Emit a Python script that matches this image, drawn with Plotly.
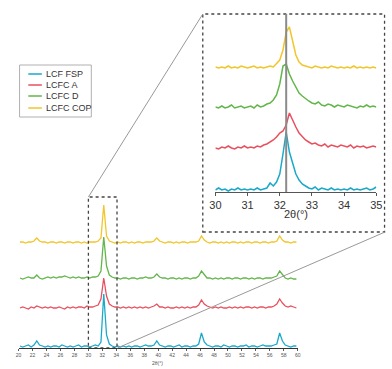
import plotly.graph_objects as go

# ---------------- data ----------------
series_names = ["LCF FSP", "LCFC A", "LCFC D", "LCFC COP"]
series_colors = ["#1ba9cb", "#e9505e", "#62b64a", "#f2c52a"]

# main scan: 2theta from 20.2 to 59.8, step 0.4
main_x = [20.2, 20.6, 21.0, 21.4, 21.8, 22.2, 22.6, 23.0, 23.4, 23.8,
          24.2, 24.6, 25.0, 25.4, 25.8, 26.2, 26.6, 27.0, 27.4, 27.8,
          28.2, 28.6, 29.0, 29.4, 29.8, 30.2, 30.6, 31.0, 31.4, 31.8,
          32.2, 32.6, 33.0, 33.4, 33.8, 34.2, 34.6, 35.0, 35.4, 35.8,
          36.2, 36.6, 37.0, 37.4, 37.8, 38.2, 38.6, 39.0, 39.4, 39.8,
          40.2, 40.6, 41.0, 41.4, 41.8, 42.2, 42.6, 43.0, 43.4, 43.8,
          44.2, 44.6, 45.0, 45.4, 45.8, 46.2, 46.6, 47.0, 47.4, 47.8,
          48.2, 48.6, 49.0, 49.4, 49.8, 50.2, 50.6, 51.0, 51.4, 51.8,
          52.2, 52.6, 53.0, 53.4, 53.8, 54.2, 54.6, 55.0, 55.4, 55.8,
          56.2, 56.6, 57.0, 57.4, 57.8, 58.2, 58.6, 59.0, 59.4, 59.8]

main_fsp = [2, 1, 2, 3, 1, 3, 7, 3, 2, 1,
            2, 1, 2, 2, 1, 3, 2, 1, 2, 1,
            2, 3, 1, 2, 2, 1, 2, 3, 2, 6,
            54, 13, 4, 2, 1, 2, 1, 2, 1, 2,
            1, 2, 2, 1, 2, 3, 2, 2, 3, 7,
            3, 2, 1, 2, 2, 1, 2, 3, 1, 2,
            2, 1, 2, 2, 4, 15, 6, 3, 2, 1,
            2, 2, 1, 3, 2, 1, 2, 2, 1, 2,
            2, 3, 1, 2, 2, 1, 2, 3, 2, 2,
            2, 3, 4, 15, 7, 3, 2, 1, 2, 2]

main_a = [2, 3, 2, 1, 3, 2, 4, 3, 2, 3,
          2, 3, 2, 2, 3, 2, 1, 3, 2, 3,
          2, 3, 3, 2, 4, 3, 3, 4, 5, 11,
          32, 14, 6, 4, 3, 3, 2, 3, 2, 3,
          2, 3, 2, 3, 2, 3, 2, 3, 4, 6,
          3, 3, 2, 3, 2, 2, 3, 2, 3, 2,
          3, 2, 3, 3, 5, 10, 6, 4, 3, 2,
          3, 2, 3, 2, 2, 3, 2, 3, 2, 3,
          2, 3, 3, 2, 3, 2, 3, 3, 2, 3,
          3, 4, 6, 11, 7, 4, 3, 4, 3, 2]

main_d = [2, 1, 2, 3, 2, 2, 5, 2, 1, 2,
          3, 2, 3, 2, 3, 3, 4, 3, 2, 3,
          2, 3, 2, 2, 3, 2, 3, 3, 4, 9,
          43, 14, 5, 3, 2, 2, 1, 2, 2, 1,
          2, 2, 1, 2, 2, 3, 2, 2, 3, 6,
          3, 2, 2, 1, 2, 2, 1, 2, 1, 2,
          2, 1, 2, 2, 4, 9, 5, 2, 2, 1,
          2, 1, 2, 1, 2, 2, 1, 2, 2, 1,
          2, 2, 1, 2, 1, 2, 2, 1, 2, 2,
          2, 3, 4, 9, 5, 2, 1, 2, 1, 1]

main_cop = [2, 2, 1, 2, 2, 3, 6, 3, 2, 2,
            1, 2, 2, 1, 2, 2, 1, 2, 2, 1,
            2, 2, 1, 2, 1, 2, 2, 2, 3, 6,
            39, 8, 3, 2, 1, 2, 1, 2, 2, 1,
            2, 1, 2, 2, 1, 2, 2, 2, 3, 6,
            3, 2, 1, 2, 2, 1, 2, 1, 2, 2,
            1, 2, 2, 2, 3, 8, 4, 2, 1, 2,
            2, 1, 2, 1, 2, 1, 2, 2, 1, 2,
            1, 2, 2, 1, 2, 2, 1, 2, 2, 1,
            2, 2, 3, 8, 4, 2, 2, 1, 2, 2]

# zoomed scan: 2theta from 30.0 to 35.0, step 0.1
zoom_x = [30.0, 30.1, 30.2, 30.3, 30.4, 30.5, 30.6, 30.7, 30.8, 30.9,
          31.0, 31.1, 31.2, 31.3, 31.4, 31.5, 31.6, 31.7, 31.8, 31.9,
          32.0, 32.1, 32.2, 32.3, 32.4, 32.5, 32.6, 32.7, 32.8, 32.9,
          33.0, 33.1, 33.2, 33.3, 33.4, 33.5, 33.6, 33.7, 33.8, 33.9,
          34.0, 34.1, 34.2, 34.3, 34.4, 34.5, 34.6, 34.7, 34.8, 34.9, 35.0]

zoom_fsp = [2, 4, 2, 3, 1, 3, 2, 4, 2, 3,
            2, 3, 2, 4, 2, 3, 4, 9, 6, 10,
            18, 38, 60, 40, 28, 18, 12, 8, 6, 4,
            3, 5, 2, 4, 3, 2, 4, 2, 3, 2,
            3, 2, 4, 2, 3, 2, 3, 4, 2, 3, 5]

zoom_a = [3, 2, 4, 3, 5, 3, 2, 4, 3, 5,
          3, 4, 3, 5, 4, 6, 7, 9, 11, 14,
          18, 20, 26, 38, 30, 24, 18, 14, 11, 9,
          7, 8, 6, 5, 7, 4, 6, 5, 4, 6,
          5, 4, 6, 3, 5, 4, 5, 3, 4, 5, 4]

zoom_d = [3, 2, 4, 2, 3, 5, 2, 3, 4, 2,
          3, 4, 2, 5, 3, 4, 6, 7, 10, 15,
          26, 44, 46, 36, 29, 23, 17, 14, 11, 9,
          7, 6, 8, 5, 4, 6, 5, 3, 5, 4,
          3, 5, 4, 3, 2, 4, 3, 5, 3, 4, 3]

zoom_cop = [3, 2, 3, 2, 4, 2, 3, 2, 4, 3,
            2, 3, 4, 2, 3, 2, 3, 4, 3, 6,
            10, 20, 38, 43, 28, 15, 8, 5, 4, 3,
            2, 4, 3, 2, 3, 2, 4, 3, 2, 3,
            2, 3, 2, 4, 2, 3, 2, 3, 2, 3, 2]

main_ticks = [20, 22, 24, 26, 28, 30, 32, 34, 36, 38, 40,
              42, 44, 46, 48, 50, 52, 54, 56, 58, 60]
zoom_ticks = [30, 31, 32, 33, 34, 35]
ref_line_x = 32.2
axis_title = "2θ(°)"

# ---------------- layout helpers ----------------
W, H = 392, 369
FONT = "Liberation Sans, Arial, sans-serif"


def px(x):
    return x / W


def py(y):
    return 1 - y / H


main_offsets = [0, 38, 68, 104]
zoom_offsets = [0, 41, 82, 122]

main_sets = [main_fsp, main_a, main_d, main_cop]
zoom_sets = [zoom_fsp, zoom_a, zoom_d, zoom_cop]

fig = go.Figure()

for name, color, vals, off in zip(series_names, series_colors, main_sets, main_offsets):
    fig.add_trace(go.Scatter(
        x=main_x, y=[v + off for v in vals], mode="lines", name=name,
        line=dict(color=color, width=1.3), xaxis="x", yaxis="y",
        showlegend=False, hoverinfo="skip"))

for name, color, vals, off in zip(series_names, series_colors, zoom_sets, zoom_offsets):
    fig.add_trace(go.Scatter(
        x=zoom_x, y=[v + off for v in vals], mode="lines", name=name,
        line=dict(color=color, width=1.5), xaxis="x2", yaxis="y2",
        showlegend=False, hoverinfo="skip"))

shapes = []
annotations = []

# main dashed selection box
shapes.append(dict(type="rect", xref="x", yref="y", x0=30, x1=34.1, y0=0, y1=151,
                   line=dict(color="#444", width=1.3, dash="3px,3px"),
                   fillcolor="rgba(0,0,0,0)", layer="above"))
# inset dashed box
shapes.append(dict(type="rect", xref="paper", yref="paper",
                   x0=px(203), x1=px(390.5), y0=py(232), y1=py(14),
                   line=dict(color="#444", width=1.3, dash="3px,3px"),
                   fillcolor="rgba(0,0,0,0)", layer="above"))
# connecting lines
shapes.append(dict(type="line", xref="paper", yref="paper",
                   x0=px(85), y0=py(197), x1=px(203), y1=py(14),
                   line=dict(color="#999", width=1)))
shapes.append(dict(type="line", xref="paper", yref="paper",
                   x0=px(115), y0=py(348), x1=px(391), y1=py(232),
                   line=dict(color="#999", width=1)))
# reference vertical line in inset
shapes.append(dict(type="line", xref="x2", yref="y2",
                   x0=ref_line_x, x1=ref_line_x, y0=0, y1=178,
                   line=dict(color="#8a8a8a", width=2), layer="above"))

# manual legend
shapes.append(dict(type="rect", xref="paper", yref="paper",
                   x0=px(14), x1=px(88), y0=py(117), y1=py(65),
                   line=dict(color="#b0b0b0", width=1), fillcolor="white"))
legend_rows = [74, 85, 96, 108]
for name, color, yy in zip(series_names, series_colors, legend_rows):
    shapes.append(dict(type="line", xref="paper", yref="paper",
                       x0=px(23), x1=px(37), y0=py(yy), y1=py(yy),
                       line=dict(color=color, width=1.5)))
    annotations.append(dict(xref="paper", yref="paper", x=px(39), y=py(yy),
                            text=name, showarrow=False, xanchor="left", yanchor="middle",
                            font=dict(family=FONT, size=9, color="#333")))

# axis titles
annotations.append(dict(xref="paper", yref="paper", x=px(156), y=py(363),
                        text=axis_title, showarrow=False, xanchor="center", yanchor="middle",
                        font=dict(family=FONT, size=5, color="#555")))
annotations.append(dict(xref="paper", yref="paper", x=px(299), y=py(214),
                        text=axis_title, showarrow=False, xanchor="center", yanchor="middle",
                        font=dict(family=FONT, size=11, color="#333")))

fig.update_layout(
    width=W, height=H,
    margin=dict(l=0, r=0, t=0, b=0),
    paper_bgcolor="white", plot_bgcolor="rgba(0,0,0,0)",
    showlegend=False,
    font=dict(family=FONT),
    shapes=shapes, annotations=annotations,
    xaxis=dict(domain=[px(13), px(301)], range=[20, 60], showgrid=False, zeroline=False,
               showline=True, linecolor="#333", linewidth=1,
               ticks="outside", ticklen=2, tickwidth=0.8, tickcolor="#333",
               tickvals=main_ticks, ticktext=[str(t) for t in main_ticks],
               tickfont=dict(family=FONT, size=5, color="#555"), anchor="y"),
    yaxis=dict(domain=[py(348), py(190)], range=[0, 158], visible=False, anchor="x"),
    xaxis2=dict(domain=[px(216), px(382)], range=[30, 35], showgrid=False, zeroline=False,
                showline=True, linecolor="#555", linewidth=1.2,
                ticks="outside", ticklen=3, tickwidth=1, tickcolor="#555",
                tickvals=zoom_ticks, ticktext=[str(t) for t in zoom_ticks],
                tickfont=dict(family=FONT, size=11, color="#333"), anchor="y2"),
    yaxis2=dict(domain=[py(192), py(14)], range=[0, 178], visible=False, anchor="x2"),
)

fig.write_html("out.html", config={"displayModeBar": False, "staticPlot": True})

# remove the browser's default page margin so the figure sits at (0, 0)
with open("out.html", "r", encoding="utf-8") as f:
    html = f.read()
html = html.replace("<head>", "<head><style>html,body{margin:0;padding:0;overflow:hidden;}</style>", 1)
with open("out.html", "w", encoding="utf-8") as f:
    f.write(html)
